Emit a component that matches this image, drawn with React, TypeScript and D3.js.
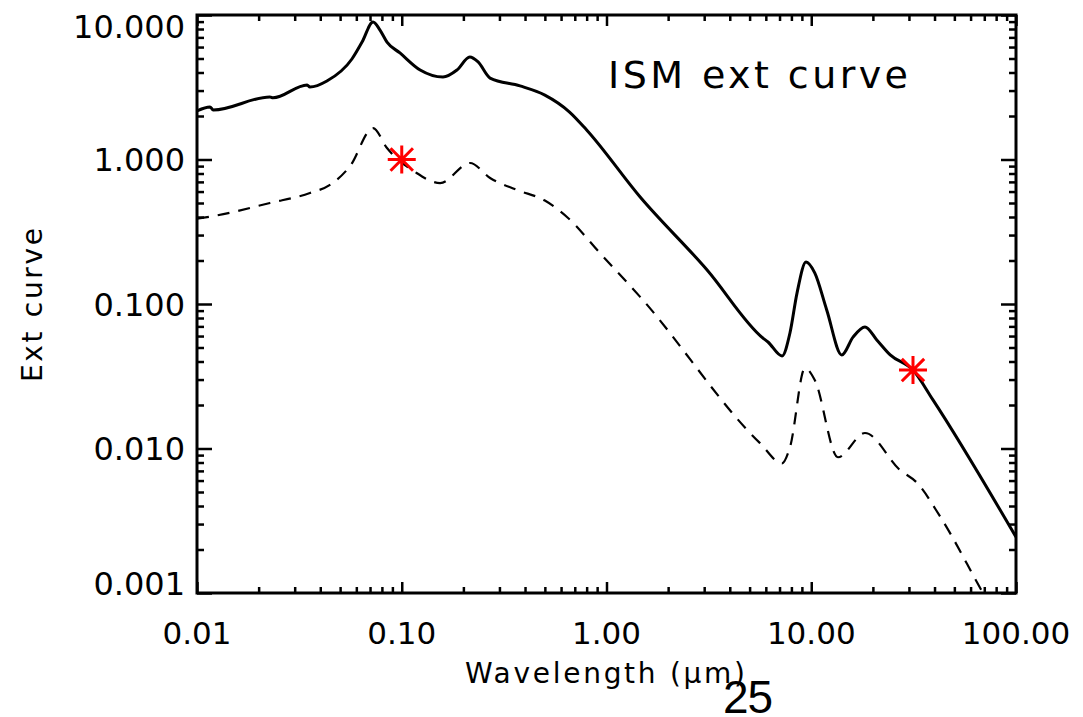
import React, { useEffect, useRef } from 'react';
import * as d3 from 'd3';

// ISM extinction curve (solid)
const ismWave = [0.01, 0.01157, 0.012, 0.0227, 0.0235, 0.0345, 0.0356, 0.0431, 0.0571, 0.064, 0.0724, 0.0783, 0.0847, 0.098, 0.123, 0.159, 0.186, 0.215, 0.236, 0.27, 0.378, 0.5, 0.66, 0.8, 1.46, 3.1, 5.81, 6.15, 7.2, 7.87, 8.52, 9.43, 10.4, 11.9, 14.1, 16.0, 18.3, 20.9, 24.3, 31.4, 39.3, 100];
const ismExt = [2.17, 2.31, 2.2, 2.71, 2.67, 3.28, 3.17, 3.49, 4.96, 6.5, 8.95, 7.87, 6.5, 5.46, 4.16, 3.72, 4.16, 5.12, 4.73, 3.66, 3.23, 2.79, 2.13, 1.6, 0.55, 0.172, 0.0581, 0.0546, 0.0437, 0.063, 0.119, 0.195, 0.164, 0.091, 0.0444, 0.059, 0.0693, 0.0564, 0.0444, 0.0349, 0.0217, 0.00244];

// scaled curve (dashed)
const scaledWave = [0.01, 0.012, 0.0227, 0.0356, 0.0446, 0.0559, 0.0724, 0.0847, 0.116, 0.154, 0.2154, 0.27, 0.366, 0.5, 0.649, 0.929, 1.46, 5.62, 7.2, 7.87, 9.32, 10.4, 13.5, 18.3, 27.1, 32.8, 42.5, 69, 100];
const scaledExt = [0.39, 0.406, 0.5, 0.586, 0.667, 0.9, 1.65, 1.2, 0.82, 0.687, 0.946, 0.745, 0.615, 0.52, 0.394, 0.225, 0.112, 0.0109, 0.0079, 0.0102, 0.036, 0.0298, 0.0087, 0.0128, 0.0071, 0.0058, 0.0034, 0.001, 0.0004];

// red asterisks
const starWave = [0.1, 31.4];
const starExt = [1.0, 0.0349];

const xTickValues = [0.01, 0.1, 1, 10, 100];
const xTickLabels = ['0.01', '0.10', '1.00', '10.00', '100.00'];
const yTickValues = [0.001, 0.01, 0.1, 1, 10];
const yTickLabels = ['0.001', '0.010', '0.100', '1.000', '10.000'];

const W = 1083;
const H = 717;
const left = 197, right = 1016, top = 15, bottom = 593;
const FONT = 'DejaVu Sans, sans-serif';

const minorTicks = (majors: number[]) => {
  let out: number[] = [];
  for (let i = 0; i < majors.length - 1; i++) {
    for (let k = 2; k <= 9; k++) out.push(majors[i] * k);
  }
  return out;
};

const drawAxes = (svg: any, x: any, y: any) => {
  const xMinor = minorTicks(xTickValues);
  const yMinor = minorTicks(yTickValues);

  const put = (axis: any, tx: number, ty: number) => {
    const g = svg.append('g').attr('transform', `translate(${tx},${ty})`).call(axis);
    g.select('.domain').remove();
    g.selectAll('text').remove();
    g.selectAll('line').attr('stroke', '#000').attr('stroke-width', 2.5);
  };

  // bottom + top
  put(d3.axisBottom(x).tickValues(xTickValues).tickSize(-11).tickSizeOuter(0), 0, bottom);
  put(d3.axisBottom(x).tickValues(xMinor).tickSize(-6).tickSizeOuter(0), 0, bottom);
  put(d3.axisTop(x).tickValues(xTickValues).tickSize(-11).tickSizeOuter(0), 0, top);
  put(d3.axisTop(x).tickValues(xMinor).tickSize(-6).tickSizeOuter(0), 0, top);
  // left + right
  put(d3.axisLeft(y).tickValues(yTickValues).tickSize(-15).tickSizeOuter(0), left, 0);
  put(d3.axisLeft(y).tickValues(yMinor).tickSize(-7).tickSizeOuter(0), left, 0);
  put(d3.axisRight(y).tickValues(yTickValues).tickSize(-15).tickSizeOuter(0), right, 0);
  put(d3.axisRight(y).tickValues(yMinor).tickSize(-7).tickSizeOuter(0), right, 0);

  // frame
  svg.append('rect')
    .attr('x', left).attr('y', top)
    .attr('width', right - left).attr('height', bottom - top)
    .attr('fill', 'none').attr('stroke', '#000').attr('stroke-width', 3);

  // tick labels
  xTickValues.forEach((v, i) => {
    svg.append('text')
      .attr('x', x(v)).attr('y', 644)
      .attr('text-anchor', 'middle')
      .attr('font-family', FONT).attr('font-size', 31)
      .text(xTickLabels[i]);
  });
  yTickValues.forEach((v, i) => {
    const yy = Math.max(top + 11, Math.min(bottom - 10, y(v)));
    svg.append('text')
      .attr('x', 185).attr('y', yy)
      .attr('dy', '0.36em')
      .attr('text-anchor', 'end')
      .attr('font-family', FONT).attr('font-size', 32)
      .text(yTickLabels[i]);
  });
};

const star = (cx: number, cy: number, r: number) => {
  const d = r * 0.8;
  return `M${cx - r},${cy}L${cx + r},${cy}M${cx},${cy - r}L${cx},${cy + r}` +
    `M${cx - d},${cy - d}L${cx + d},${cy + d}M${cx - d},${cy + d}L${cx + d},${cy - d}`;
};

const App = () => {
  const ref = useRef<SVGSVGElement>(null);

  useEffect(() => {
    document.body.style.margin = '0';
    const svg = d3.select(ref.current);
    svg.selectAll('*').remove();

    const x = d3.scaleLog().domain([0.01, 100]).range([left, right]);
    const y = d3.scaleLog().domain([0.001, 10]).range([bottom, top]);

    svg.append('defs').append('clipPath').attr('id', 'plot-clip')
      .append('rect').attr('x', left).attr('y', top)
      .attr('width', right - left).attr('height', bottom - top);

    const ism = ismWave.map((w, i) => [x(w), y(ismExt[i])] as [number, number]);
    const scaled = scaledWave.map((w, i) => [x(w), y(scaledExt[i])] as [number, number]);
    const path = d3.line().curve(d3.curveMonotoneX);

    svg.append('path')
      .attr('d', path(scaled))
      .attr('clip-path', 'url(#plot-clip)')
      .attr('fill', 'none').attr('stroke', '#000')
      .attr('stroke-width', 2.2).attr('stroke-dasharray', '12 9');

    svg.append('path')
      .attr('d', path(ism))
      .attr('clip-path', 'url(#plot-clip)')
      .attr('fill', 'none').attr('stroke', '#000')
      .attr('stroke-width', 3).attr('stroke-linejoin', 'round');

    starWave.forEach((w, i) => {
      svg.append('path')
        .attr('d', star(x(w), y(starExt[i]), 14))
        .attr('stroke', '#ff0000').attr('stroke-width', 3).attr('fill', 'none');
    });

    drawAxes(svg, x, y);

    // titles
    svg.append('text')
      .attr('x', 608).attr('y', 88)
      .attr('font-family', FONT).attr('font-size', 38)
      .attr('textLength', 300).attr('lengthAdjust', 'spacing')
      .text('ISM ext curve');

    svg.append('text')
      .attr('x', 465).attr('y', 683)
      .attr('font-family', FONT).attr('font-size', 28)
      .attr('textLength', 280).attr('lengthAdjust', 'spacing')
      .text('Wavelength (μm)');

    svg.append('text')
      .attr('transform', 'translate(42,305) rotate(-90)')
      .attr('text-anchor', 'middle')
      .attr('font-family', FONT).attr('font-size', 28)
      .attr('textLength', 154).attr('lengthAdjust', 'spacing')
      .text('Ext curve');

    // page number that sits under the axis title in the source
    svg.append('text')
      .attr('x', 723).attr('y', 713)
      .attr('font-family', 'Liberation Sans, sans-serif').attr('font-size', 46)
      .attr('textLength', 50).attr('lengthAdjust', 'spacing')
      .text('25');
  }, []);

  return (
    <svg ref={ref} width={W} height={H}
      style={{ position: 'absolute', left: 0, top: 0, background: '#fff' }} />
  );
};

export default App;
